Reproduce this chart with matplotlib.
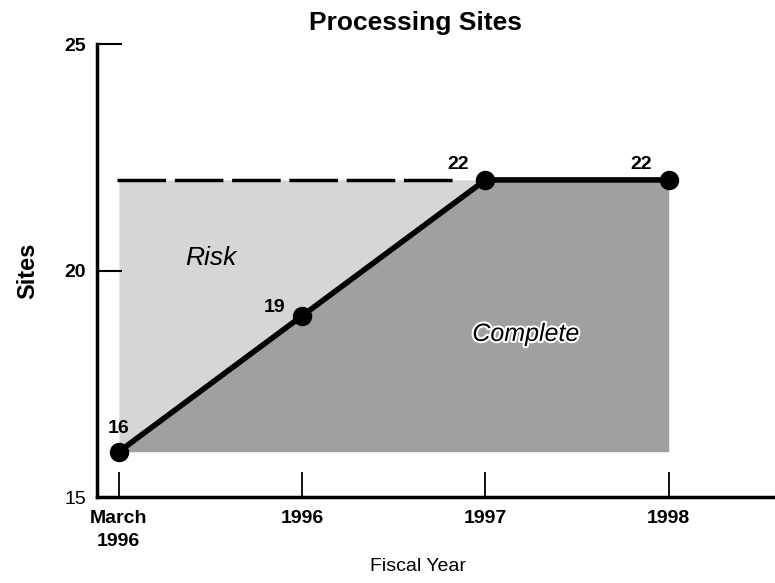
import numpy as np
import matplotlib.pyplot as plt
import matplotlib.patheffects as pe

plt.rcParams['font.family'] = ['Liberation Sans', 'DejaVu Sans']

periods = ['March\n1996', '1996', '1997', '1998']
sites = [16, 19, 22, 22]
target = 22
baseline = 16
yticks = [15, 20, 25]

x = np.arange(len(periods))

fig = plt.figure(figsize=(7.75, 5.83), dpi=100)
ax = fig.add_axes([0.125, 0.1475, 0.875, 0.777])

# shaded areas
ax.fill_between(x[:3], sites[:3], target, color='#d6d6d6', lw=0, zorder=1)
ax.fill_between(x, baseline, sites, color='#a0a0a0', lw=0, zorder=1)

# target line
ax.plot([x[0] - 0.01, x[2] - 0.16], [target, target], color='black', lw=2.5,
        dashes=(14, 2.5), zorder=2)

# actual sites
ax.plot(x, sites, color='black', lw=4, marker='o', ms=13, zorder=3)

offsets = [(0, 0.33), (-0.15, 0.0), (-0.15, 0.15), (-0.15, 0.15)]
for xi, v, (dx, dy) in zip(x, sites, offsets):
    ax.text(xi + dx, v + dy, str(v), ha='center', va='bottom',
            fontsize=14, fontweight='bold', zorder=4)

ax.text(0.5, 20.28, 'Risk', fontsize=19, style='italic', ha='center',
        va='center', zorder=4)
ax.text(2.22, 18.6, 'Complete', fontsize=18, style='italic', ha='center',
        va='center', zorder=4,
        path_effects=[pe.withStroke(linewidth=3, foreground='white')])

ax.set_xlim(-0.12, 3.58)
ax.set_ylim(15, 25)
ax.set_xticks(x)
ax.set_xticklabels(periods, fontsize=14, fontweight='bold', linespacing=1.5)
ax.set_yticks(yticks)
ax.set_yticklabels([str(t) for t in yticks], fontsize=14, fontweight='bold')
ax.get_yticklabels()[0].set_fontweight('normal')

ax.tick_params(axis='x', direction='in', length=18, width=1.3, pad=9)
ax.tick_params(axis='y', direction='in', length=18, width=1.5, pad=8)
ax.yaxis.get_major_ticks()[0].tick1line.set_visible(False)

for s in ['top', 'right']:
    ax.spines[s].set_visible(False)
for s in ['left', 'bottom']:
    ax.spines[s].set_linewidth(2.5)

ax.set_title('Processing Sites', fontsize=19, fontweight='bold', pad=10, x=0.47)
ax.set_xlabel('Fiscal Year', fontsize=14, labelpad=6)
ax.xaxis.label.set_x(0.473)
ax.set_ylabel('Sites', fontsize=17, fontweight='bold', labelpad=18)

fig.savefig('out.png', dpi=100)
